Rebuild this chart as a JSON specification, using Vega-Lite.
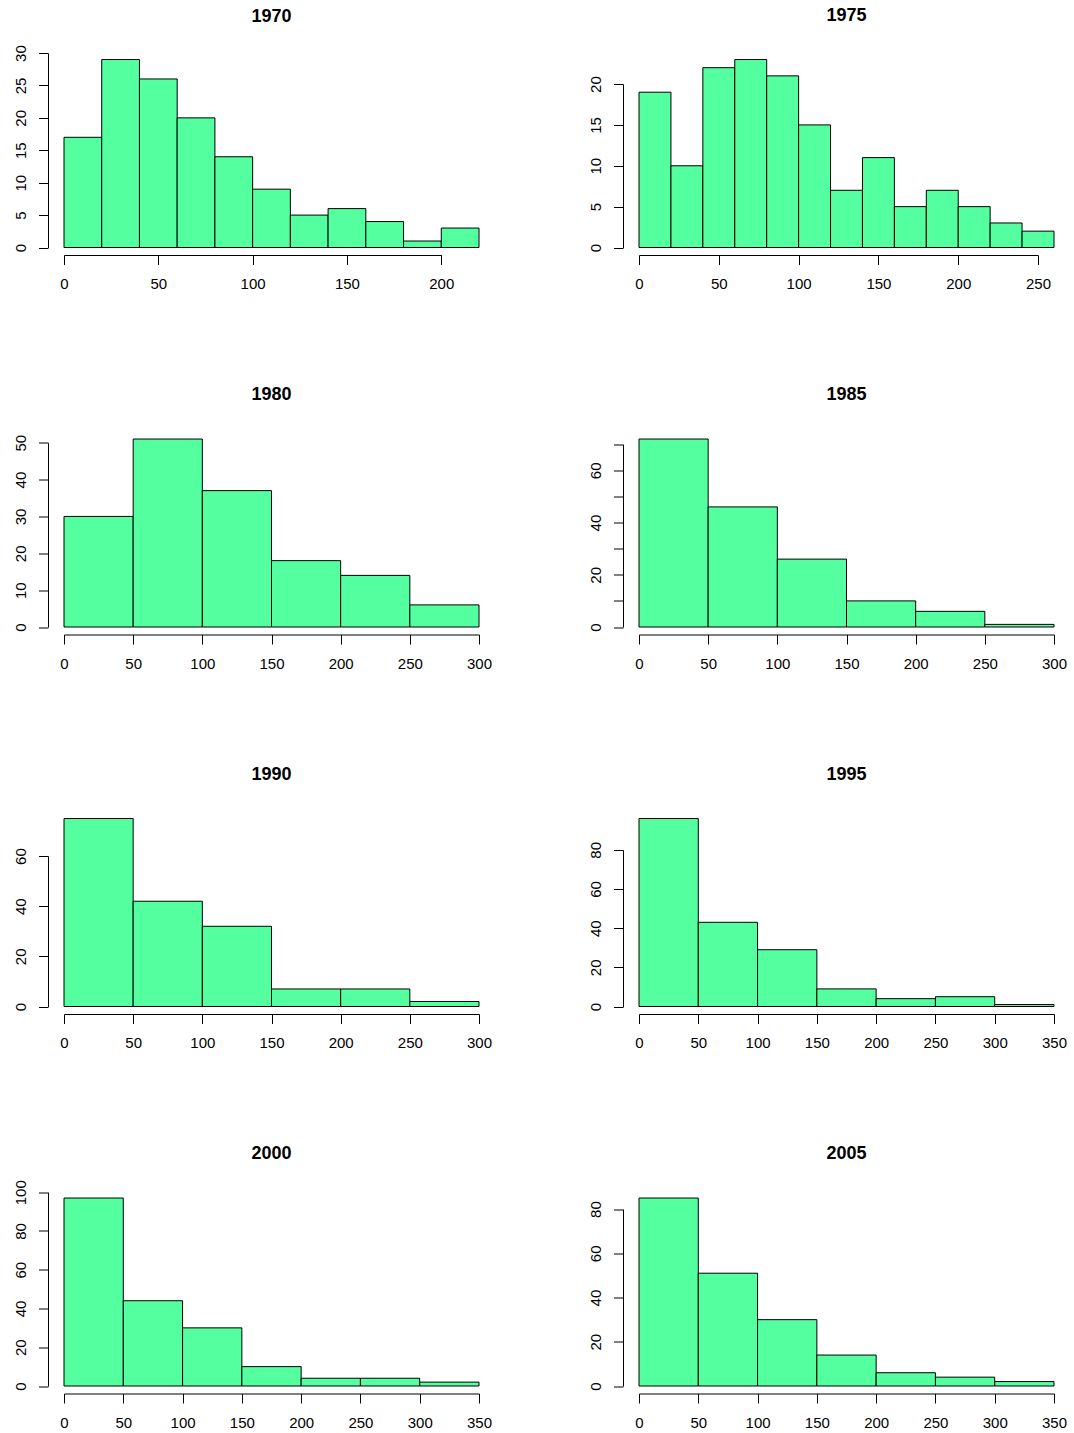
{
  "$schema": "https://vega.github.io/schema/vega-lite/v6.json",
  "background": "white",
  "padding": {"left": 13, "top": 6, "right": 5, "bottom": 5},
  "datasets": {
    "hist": [
      {"year": "1970", "bin_start": 0, "bin_end": 20, "count": 17},
      {"year": "1970", "bin_start": 20, "bin_end": 40, "count": 29},
      {"year": "1970", "bin_start": 40, "bin_end": 60, "count": 26},
      {"year": "1970", "bin_start": 60, "bin_end": 80, "count": 20},
      {"year": "1970", "bin_start": 80, "bin_end": 100, "count": 14},
      {"year": "1970", "bin_start": 100, "bin_end": 120, "count": 9},
      {"year": "1970", "bin_start": 120, "bin_end": 140, "count": 5},
      {"year": "1970", "bin_start": 140, "bin_end": 160, "count": 6},
      {"year": "1970", "bin_start": 160, "bin_end": 180, "count": 4},
      {"year": "1970", "bin_start": 180, "bin_end": 200, "count": 1},
      {"year": "1970", "bin_start": 200, "bin_end": 220, "count": 3},
      {"year": "1975", "bin_start": 0, "bin_end": 20, "count": 19},
      {"year": "1975", "bin_start": 20, "bin_end": 40, "count": 10},
      {"year": "1975", "bin_start": 40, "bin_end": 60, "count": 22},
      {"year": "1975", "bin_start": 60, "bin_end": 80, "count": 23},
      {"year": "1975", "bin_start": 80, "bin_end": 100, "count": 21},
      {"year": "1975", "bin_start": 100, "bin_end": 120, "count": 15},
      {"year": "1975", "bin_start": 120, "bin_end": 140, "count": 7},
      {"year": "1975", "bin_start": 140, "bin_end": 160, "count": 11},
      {"year": "1975", "bin_start": 160, "bin_end": 180, "count": 5},
      {"year": "1975", "bin_start": 180, "bin_end": 200, "count": 7},
      {"year": "1975", "bin_start": 200, "bin_end": 220, "count": 5},
      {"year": "1975", "bin_start": 220, "bin_end": 240, "count": 3},
      {"year": "1975", "bin_start": 240, "bin_end": 260, "count": 2},
      {"year": "1980", "bin_start": 0, "bin_end": 50, "count": 30},
      {"year": "1980", "bin_start": 50, "bin_end": 100, "count": 51},
      {"year": "1980", "bin_start": 100, "bin_end": 150, "count": 37},
      {"year": "1980", "bin_start": 150, "bin_end": 200, "count": 18},
      {"year": "1980", "bin_start": 200, "bin_end": 250, "count": 14},
      {"year": "1980", "bin_start": 250, "bin_end": 300, "count": 6},
      {"year": "1985", "bin_start": 0, "bin_end": 50, "count": 72},
      {"year": "1985", "bin_start": 50, "bin_end": 100, "count": 46},
      {"year": "1985", "bin_start": 100, "bin_end": 150, "count": 26},
      {"year": "1985", "bin_start": 150, "bin_end": 200, "count": 10},
      {"year": "1985", "bin_start": 200, "bin_end": 250, "count": 6},
      {"year": "1985", "bin_start": 250, "bin_end": 300, "count": 1},
      {"year": "1990", "bin_start": 0, "bin_end": 50, "count": 75},
      {"year": "1990", "bin_start": 50, "bin_end": 100, "count": 42},
      {"year": "1990", "bin_start": 100, "bin_end": 150, "count": 32},
      {"year": "1990", "bin_start": 150, "bin_end": 200, "count": 7},
      {"year": "1990", "bin_start": 200, "bin_end": 250, "count": 7},
      {"year": "1990", "bin_start": 250, "bin_end": 300, "count": 2},
      {"year": "1995", "bin_start": 0, "bin_end": 50, "count": 96},
      {"year": "1995", "bin_start": 50, "bin_end": 100, "count": 43},
      {"year": "1995", "bin_start": 100, "bin_end": 150, "count": 29},
      {"year": "1995", "bin_start": 150, "bin_end": 200, "count": 9},
      {"year": "1995", "bin_start": 200, "bin_end": 250, "count": 4},
      {"year": "1995", "bin_start": 250, "bin_end": 300, "count": 5},
      {"year": "1995", "bin_start": 300, "bin_end": 350, "count": 1},
      {"year": "2000", "bin_start": 0, "bin_end": 50, "count": 97},
      {"year": "2000", "bin_start": 50, "bin_end": 100, "count": 44},
      {"year": "2000", "bin_start": 100, "bin_end": 150, "count": 30},
      {"year": "2000", "bin_start": 150, "bin_end": 200, "count": 10},
      {"year": "2000", "bin_start": 200, "bin_end": 250, "count": 4},
      {"year": "2000", "bin_start": 250, "bin_end": 300, "count": 4},
      {"year": "2000", "bin_start": 300, "bin_end": 350, "count": 2},
      {"year": "2005", "bin_start": 0, "bin_end": 50, "count": 85},
      {"year": "2005", "bin_start": 50, "bin_end": 100, "count": 51},
      {"year": "2005", "bin_start": 100, "bin_end": 150, "count": 30},
      {"year": "2005", "bin_start": 150, "bin_end": 200, "count": 14},
      {"year": "2005", "bin_start": 200, "bin_end": 250, "count": 6},
      {"year": "2005", "bin_start": 250, "bin_end": 300, "count": 4},
      {"year": "2005", "bin_start": 300, "bin_end": 350, "count": 2}
    ]
  },
  "data": {"name": "hist"},
  "columns": 2,
  "bounds": "flush",
  "spacing": {"column": 160, "row": 183.5},
  "resolve": {"scale": {"x": "independent", "y": "independent"}},
  "concat": [
    {
      "title": {"text": "1970", "offset": 19}, "width": 415, "height": 195.5,
      "transform": [{"filter": "datum.year == '1970'"}],
      "mark": {"type": "rect", "fill": "#54FF9F", "stroke": "black", "strokeWidth": 1},
      "encoding": {
        "x": {"field": "bin_start", "type": "quantitative", "scale": {"domain": [0, 220], "nice": false, "zero": false},
              "axis": {"values": [0, 50, 100, 150, 200], "domainDash": [377.27, 2000]}},
        "x2": {"field": "bin_end"},
        "y": {"field": "count", "type": "quantitative", "scale": {"domain": [0, 30.16], "nice": false},
              "axis": {"values": [0, 5, 10, 15, 20, 25, 30], "domainDash": [194.46, 2000]}},
        "y2": {"datum": 0}
      }
    },
    {
      "title": {"text": "1975", "offset": 27.5}, "width": 415, "height": 195.5,
      "transform": [{"filter": "datum.year == '1975'"}],
      "mark": {"type": "rect", "fill": "#54FF9F", "stroke": "black", "strokeWidth": 1},
      "encoding": {
        "x": {"field": "bin_start", "type": "quantitative", "scale": {"domain": [0, 260], "nice": false, "zero": false},
              "axis": {"values": [0, 50, 100, 150, 200, 250], "domainDash": [399.04, 2000]}},
        "x2": {"field": "bin_end"},
        "y": {"field": "count", "type": "quantitative", "scale": {"domain": [0, 23.92], "nice": false},
              "axis": {"values": [0, 5, 10, 15, 20], "domainDash": [163.46, 2000]}},
        "y2": {"datum": 0}
      }
    },
    {
      "title": {"text": "1980", "offset": 27.5}, "width": 415, "height": 195.5,
      "transform": [{"filter": "datum.year == '1980'"}],
      "mark": {"type": "rect", "fill": "#54FF9F", "stroke": "black", "strokeWidth": 1},
      "encoding": {
        "x": {"field": "bin_start", "type": "quantitative", "scale": {"domain": [0, 300], "nice": false, "zero": false},
              "axis": {"values": [0, 50, 100, 150, 200, 250, 300]}},
        "x2": {"field": "bin_end"},
        "y": {"field": "count", "type": "quantitative", "scale": {"domain": [0, 53.04], "nice": false},
              "axis": {"values": [0, 10, 20, 30, 40, 50], "domainDash": [184.3, 2000]}},
        "y2": {"datum": 0}
      }
    },
    {
      "title": {"text": "1985", "offset": 27.5}, "width": 415, "height": 195.5,
      "transform": [{"filter": "datum.year == '1985'"}],
      "mark": {"type": "rect", "fill": "#54FF9F", "stroke": "black", "strokeWidth": 1},
      "encoding": {
        "x": {"field": "bin_start", "type": "quantitative", "scale": {"domain": [0, 300], "nice": false, "zero": false},
              "axis": {"values": [0, 50, 100, 150, 200, 250, 300]}},
        "x2": {"field": "bin_end"},
        "y": {"field": "count", "type": "quantitative", "scale": {"domain": [0, 74.88], "nice": false},
              "axis": {"values": [0, 10, 20, 30, 40, 50, 60, 70], "labelExpr": "datum.value % 20 == 0 ? datum.label : ''", "domainDash": [182.76, 2000]}},
        "y2": {"datum": 0}
      }
    },
    {
      "title": {"text": "1990", "offset": 27.5}, "width": 415, "height": 195.5,
      "transform": [{"filter": "datum.year == '1990'"}],
      "mark": {"type": "rect", "fill": "#54FF9F", "stroke": "black", "strokeWidth": 1},
      "encoding": {
        "x": {"field": "bin_start", "type": "quantitative", "scale": {"domain": [0, 300], "nice": false, "zero": false},
              "axis": {"values": [0, 50, 100, 150, 200, 250, 300]}},
        "x2": {"field": "bin_end"},
        "y": {"field": "count", "type": "quantitative", "scale": {"domain": [0, 78], "nice": false},
              "axis": {"values": [0, 20, 40, 60], "domainDash": [150.38, 2000]}},
        "y2": {"datum": 0}
      }
    },
    {
      "title": {"text": "1995", "offset": 27.5}, "width": 415, "height": 195.5,
      "transform": [{"filter": "datum.year == '1995'"}],
      "mark": {"type": "rect", "fill": "#54FF9F", "stroke": "black", "strokeWidth": 1},
      "encoding": {
        "x": {"field": "bin_start", "type": "quantitative", "scale": {"domain": [0, 350], "nice": false, "zero": false},
              "axis": {"values": [0, 50, 100, 150, 200, 250, 300, 350]}},
        "x2": {"field": "bin_end"},
        "y": {"field": "count", "type": "quantitative", "scale": {"domain": [0, 99.84], "nice": false},
              "axis": {"values": [0, 20, 40, 60, 80], "domainDash": [156.65, 2000]}},
        "y2": {"datum": 0}
      }
    },
    {
      "title": {"text": "2000", "offset": 17}, "width": 415, "height": 195.5,
      "transform": [{"filter": "datum.year == '2000'"}],
      "mark": {"type": "rect", "fill": "#54FF9F", "stroke": "black", "strokeWidth": 1},
      "encoding": {
        "x": {"field": "bin_start", "type": "quantitative", "scale": {"domain": [0, 350], "nice": false, "zero": false},
              "axis": {"values": [0, 50, 100, 150, 200, 250, 300, 350]}},
        "x2": {"field": "bin_end"},
        "y": {"field": "count", "type": "quantitative", "scale": {"domain": [0, 100.88], "nice": false},
              "axis": {"values": [0, 20, 40, 60, 80, 100], "domainDash": [193.79, 2000]}},
        "y2": {"datum": 0}
      }
    },
    {
      "title": {"text": "2005", "offset": 27.5}, "width": 415, "height": 195.5,
      "transform": [{"filter": "datum.year == '2005'"}],
      "mark": {"type": "rect", "fill": "#54FF9F", "stroke": "black", "strokeWidth": 1},
      "encoding": {
        "x": {"field": "bin_start", "type": "quantitative", "scale": {"domain": [0, 350], "nice": false, "zero": false},
              "axis": {"values": [0, 50, 100, 150, 200, 250, 300, 350]}},
        "x2": {"field": "bin_end"},
        "y": {"field": "count", "type": "quantitative", "scale": {"domain": [0, 88.4], "nice": false},
              "axis": {"values": [0, 20, 40, 60, 80], "domainDash": [176.92, 2000]}},
        "y2": {"datum": 0}
      }
    }
  ],
  "config": {
    "view": {"stroke": null},
    "font": "Liberation Sans",
    "title": {"font": "Liberation Sans", "fontSize": 18, "fontWeight": "bold", "color": "black", "anchor": "middle", "frame": "group", "baseline": "alphabetic", "offset": 27.5},
    "axis": {
      "title": null, "grid": false,
      "labelFont": "Liberation Sans", "labelFontSize": 15, "labelColor": "black",
      "domainColor": "black", "tickColor": "black", "domainWidth": 1, "tickWidth": 1,
      "tickSize": 9.5, "labelFlush": false, "labelOverlap": false
    },
    "axisX": {"offset": 7.5, "labelPadding": 12},
    "axisY": {"offset": 16, "labelAngle": -90, "labelAlign": "center", "labelBaseline": "alphabetic", "labelPadding": 13}
  }
}
